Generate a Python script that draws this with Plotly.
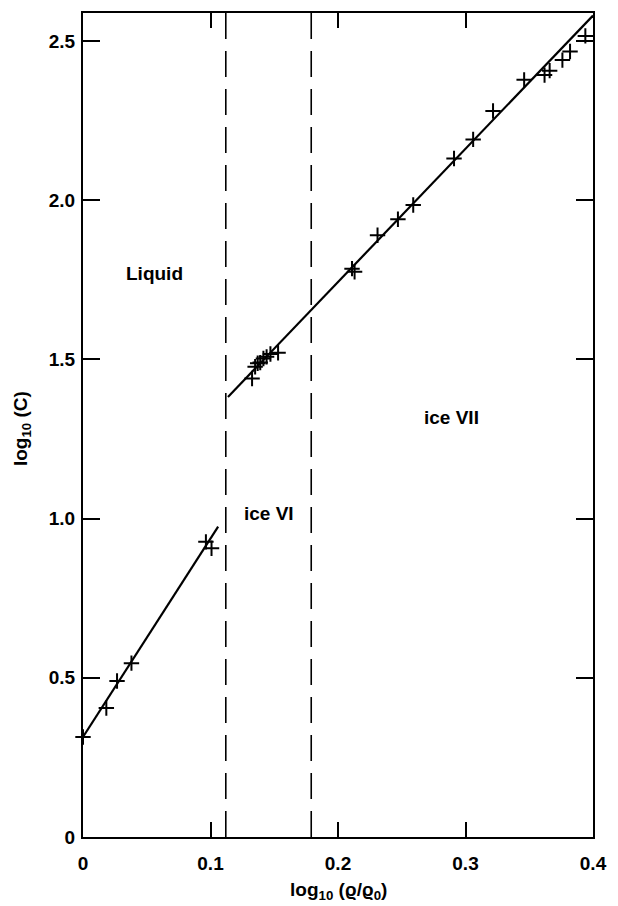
import plotly.graph_objects as go

# ---- data ----
liquid_x = [0.0, 0.0183, 0.0267, 0.038, 0.0964, 0.1008]
liquid_y = [0.314, 0.405, 0.49, 0.546, 0.927, 0.907]

ice_x = [0.1326, 0.135, 0.137, 0.139, 0.1415, 0.144, 0.147, 0.153,
         0.211, 0.213, 0.231, 0.247, 0.259, 0.291, 0.306, 0.3216,
         0.346, 0.362, 0.366, 0.376, 0.382, 0.394]
ice_y = [1.44, 1.477, 1.488, 1.49, 1.503, 1.508, 1.517, 1.521,
         1.785, 1.775, 1.89, 1.94, 1.985, 2.131, 2.191, 2.28,
         2.378, 2.393, 2.407, 2.44, 2.467, 2.516]

liquid_fit_x = [0.0, 0.106]
liquid_fit_y = [0.314, 0.975]
ice_fit_x = [0.1137, 0.4]
ice_fit_y = [1.382, 2.58]

phase_bounds = [0.112, 0.179]

x_ticks = [0, 0.1, 0.2, 0.3, 0.4]
x_ticktext = ["0", "0.1", "0.2", "0.3", "0.4"]
y_ticks = [0, 0.5, 1.0, 1.5, 2.0, 2.5]
y_ticktext = ["0", "0.5", "1.0", "1.5", "2.0", "2.5"]

region_labels = ["Liquid", "ice VI", "ice VII"]
region_x = [0.0557, 0.146, 0.289]
region_y = [1.771, 1.015, 1.319]

Y_MAX = 2.588
FONT = "Liberation Sans"

fig = go.Figure()

for b in phase_bounds:
    fig.add_trace(go.Scatter(x=[b, b], y=[0, Y_MAX], mode="lines",
                             line=dict(color="black", width=1.6, dash="26px,12px"),
                             hoverinfo="skip", showlegend=False, cliponaxis=False))

fig.add_trace(go.Scatter(x=liquid_fit_x, y=liquid_fit_y, mode="lines",
                         line=dict(color="black", width=2.2), showlegend=False))
fig.add_trace(go.Scatter(x=ice_fit_x, y=ice_fit_y, mode="lines",
                         line=dict(color="black", width=2.2), showlegend=False,
                         cliponaxis=False))

for xs, ys in [(liquid_x, liquid_y), (ice_x, ice_y)]:
    fig.add_trace(go.Scatter(x=xs, y=ys, mode="markers",
                             marker=dict(symbol="cross-thin", size=11,
                                         line=dict(color="black", width=2)),
                             showlegend=False, cliponaxis=False))

for t, x, y in zip(region_labels, region_x, region_y):
    fig.add_annotation(x=x, y=y, text=t, showarrow=False,
                       xanchor="center", yanchor="middle",
                       font=dict(family=FONT, size=19, color="black", weight="bold"))

fig.update_layout(
    width=618, height=906,
    margin=dict(l=83, r=11, t=13, b=69),
    paper_bgcolor="white", plot_bgcolor="white",
    font=dict(family=FONT, color="black"),
    xaxis=dict(range=[0, 0.4], tickvals=x_ticks, ticktext=x_ticktext,
               ticks="inside", ticklen=15, tickwidth=1.6, tickcolor="black",
               showline=True, linewidth=2, linecolor="black", mirror="ticks",
               showgrid=False, zeroline=False, ticklabelstandoff=8,
               ticklabeloverflow="allow",
               tickfont=dict(family=FONT, size=19, weight="bold")),
    yaxis=dict(range=[0, Y_MAX], tickvals=y_ticks, ticktext=y_ticktext,
               ticks="inside", ticklen=17, tickwidth=1.6, tickcolor="black",
               showline=True, linewidth=2, linecolor="black", mirror="ticks",
               showgrid=False, zeroline=False, ticklabelstandoff=2,
               tickfont=dict(family=FONT, size=19, weight="bold")),
)

fig.add_annotation(xref="paper", yref="paper", x=0.5, y=0, yshift=-54,
                   xanchor="center", yanchor="middle",
                   text="log<sub>10</sub> (ϱ/ϱ<sub>0</sub>)", showarrow=False,
                   font=dict(family=FONT, size=19, weight="bold"))
fig.add_annotation(xref="paper", yref="paper", x=0, xshift=-61, y=0.495,
                   xanchor="center", yanchor="middle",
                   text="log<sub>10</sub> (C)", showarrow=False, textangle=-90,
                   font=dict(family=FONT, size=19, weight="bold"))

fig.write_html("out.html",
               config={"displayModeBar": False},
               post_script="document.body.style.margin='0';"
                           "document.body.style.overflow='hidden';")
